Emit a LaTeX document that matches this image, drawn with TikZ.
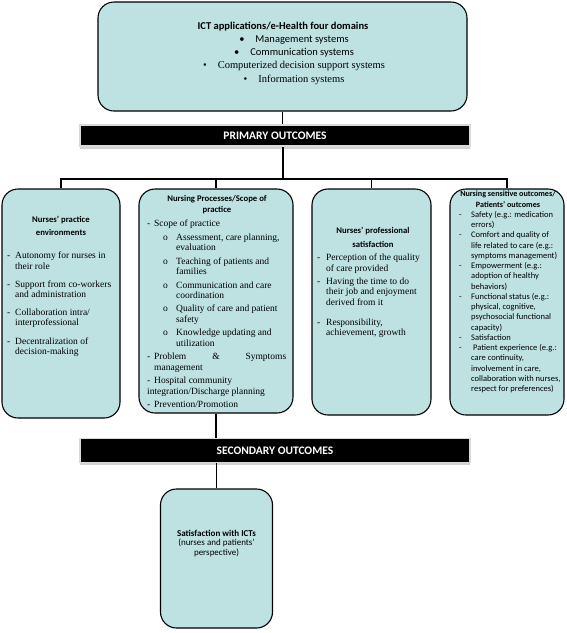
\documentclass[tikz,border=0pt]{standalone}
\usepackage{fontspec}
\setmainfont{Liberation Serif}
\newfontfamily\calib{Carlito}
\usetikzlibrary{positioning,shadows}
\definecolor{boxfill}{RGB}{190,226,226}
\tikzset{
        roundbox/.style={draw, line width=1.1pt, rounded corners=16pt, fill=boxfill},
        bar/.style={draw=gray!30, line width=1.5pt, fill=black, text=white, font=\calib\bfseries\fontsize{11.5}{12}\selectfont, drop shadow={shadow xshift=0pt, shadow yshift=-2.5pt, opacity=0.35}},
        link/.style={line width=1.1pt},
        boxtitle/.style={align=center, inner sep=0pt, anchor=north},
        boxtext/.style={align=left, inner sep=0pt, anchor=north west},
    }
\newcommand{\itm}[1]{\makebox[#1][l]{-}}

\begin{document}
\begin{tikzpicture}[x=1pt, y=-1pt]

        \useasboundingbox (0,0) rectangle (567,633);

        % Top box
        \node[roundbox, minimum width=369pt, minimum height=109pt] (ict) at (282.5,56.5) {};
        \node[boxtitle, font=\calib\fontsize{10.5}{13.3}\selectfont] (icttext) at (283,21.5) {\textbf{ICT applications/e-Health four domains}\\
            \hspace*{22pt}\textbullet\hspace{11pt}Management systems\\
            \hspace*{22pt}\textbullet\hspace{11pt}Communication systems\\
            \hspace*{22pt}{\rmfamily\textbullet\hspace{11pt}Computerized decision support systems}\\
            \hspace*{22pt}{\rmfamily\textbullet\hspace{11pt}Information systems}};

        % Outcome bars
        \node[bar, minimum width=390pt, minimum height=21pt] (primary) at (275,135.5) {PRIMARY OUTCOMES};
        \node[bar, minimum width=390pt, minimum height=24pt] (secondary) at (275,450.5) {SECONDARY OUTCOMES};

        % Primary outcome boxes
        \node[roundbox, minimum width=118pt, minimum height=229pt] (env) at (61,303.5) {};
        \node[roundbox, minimum width=154pt, minimum height=224pt] (proc) at (216,301) {};
        \node[roundbox, minimum width=119pt, minimum height=226pt] (sat) at (371.5,302) {};
        \node[roundbox, minimum width=114pt, minimum height=226pt] (pat) at (507,302) {};

        % Secondary outcome box
        \node[roundbox, minimum width=112pt, minimum height=139pt] (ictsat) at (216.5,558.5) {};

        % Box texts
        \node[boxtitle, font=\calib\bfseries\fontsize{8.7}{13}\selectfont] (envtitle) at (61,216) {Nurses’ practice\\environments};
        \node[boxtext, font=\fontsize{9.5}{10.2}\selectfont] (envtext) at (7,252) {\itm{8pt}Autonomy for nurses in\\\hspace*{8pt}their role\\[8pt]
            \itm{8pt}Support from co-workers\\\hspace*{8pt}and administration\\[8pt]
            \itm{8pt}Collaboration intra/\\\hspace*{8pt}interprofessional\\[8pt]
            \itm{8pt}Decentralization of\\\hspace*{8pt}decision-making};

        \node[boxtitle, font=\calib\bfseries\fontsize{8.7}{11.5}\selectfont] (proctitle) at (217,195) {Nursing Processes/Scope of\\practice};
        \node[boxtext, font=\fontsize{9.5}{10.5}\selectfont] (proctext) at (147,220) {\itm{7pt}Scope of practice\\[2.9pt]
            \hspace*{16pt}\makebox[13pt][l]{o}Assessment, care planning,\\\hspace*{29pt}evaluation\\[2.9pt]
            \hspace*{16pt}\makebox[13pt][l]{o}Teaching of patients and\\\hspace*{29pt}families\\[2.9pt]
            \hspace*{16pt}\makebox[13pt][l]{o}Communication and care\\\hspace*{29pt}coordination\\[2.9pt]
            \hspace*{16pt}\makebox[13pt][l]{o}Quality of care and patient\\\hspace*{29pt}safety\\[2.9pt]
            \hspace*{16pt}\makebox[13pt][l]{o}Knowledge updating and\\\hspace*{29pt}utilization\\[2.9pt]
            \makebox[139pt][l]{\itm{7pt}Problem\hfill\&\hfill Symptoms}\\\hspace*{7pt}management\\[2.9pt]
            \itm{7pt}Hospital community\\integration/Discharge planning\\[2.9pt]
            \itm{7pt}Prevention/Promotion};

        \node[boxtitle, font=\calib\bfseries\fontsize{8.7}{14}\selectfont] (sattitle) at (373,226.5) {Nurses’ professional\\satisfaction};
        \node[boxtext, font=\fontsize{9.5}{10.5}\selectfont] (sattext) at (317,254) {\itm{9pt}Perception of the quality\\\hspace*{9pt}of care provided\\[2.5pt]
            \itm{9pt}Having the time to do\\\hspace*{9pt}their job and enjoyment\\\hspace*{9pt}derived from it\\[9.5pt]
            \itm{9pt}Responsibility,\\\hspace*{9pt}achievement, growth};

        \node[boxtitle, font=\calib\bfseries\fontsize{8.1}{10.5}\selectfont] (pattitle) at (508,191) {Nursing sensitive outcomes/\\Patients’ outcomes};
        \node[boxtext, font=\calib\fontsize{8.5}{10.25}\selectfont] (pattext) at (459,211) {\itm{12pt}Safety (e.g.: medication\\\hspace*{12pt}errors)\\
            \itm{12pt}Comfort and quality of\\\hspace*{12pt}life related to care (e.g.:\\\hspace*{12pt}symptoms management)\\
            \itm{12pt}Empowerment (e.g.:\\\hspace*{12pt}adoption of healthy\\\hspace*{12pt}behaviors)\\
            \itm{12pt}Functional status (e.g.:\\\hspace*{12pt}physical, cognitive,\\\hspace*{12pt}psychosocial functional\\\hspace*{12pt}capacity)\\
            \itm{12pt}Satisfaction\\
            \itm{12pt}\hspace{2pt}Patient experience (e.g.:\\\hspace*{12pt}care continuity,\\\hspace*{12pt}involvement in care,\\\hspace*{12pt}collaboration with nurses,\\\hspace*{12pt}respect for preferences)};

        \node[boxtitle, font=\calib\fontsize{9}{9.3}\selectfont] (ictsattext) at (216.5,530) {\textbf{Satisfaction with ICTs}\\(nurses and patients’\\perspective)};

        % Connectors
        \coordinate (bus) at (283,179);
        \draw[link] (ict.south) -- (ict.south |- primary.north);
        \draw[link] (primary.south -| bus) -- (bus);
        \draw[link] (env.north) |- (bus) -| (pat.north);
        \draw[link] (proc.north) -- (proc.north |- bus);
        \draw[link] (sat.north) -- (sat.north |- bus);
        \draw[link] (proc.south) -- (proc.south |- secondary.north);
        \draw[link] (secondary.south -| ictsat.north) -- (ictsat.north);

    \end{tikzpicture}
\end{document}
